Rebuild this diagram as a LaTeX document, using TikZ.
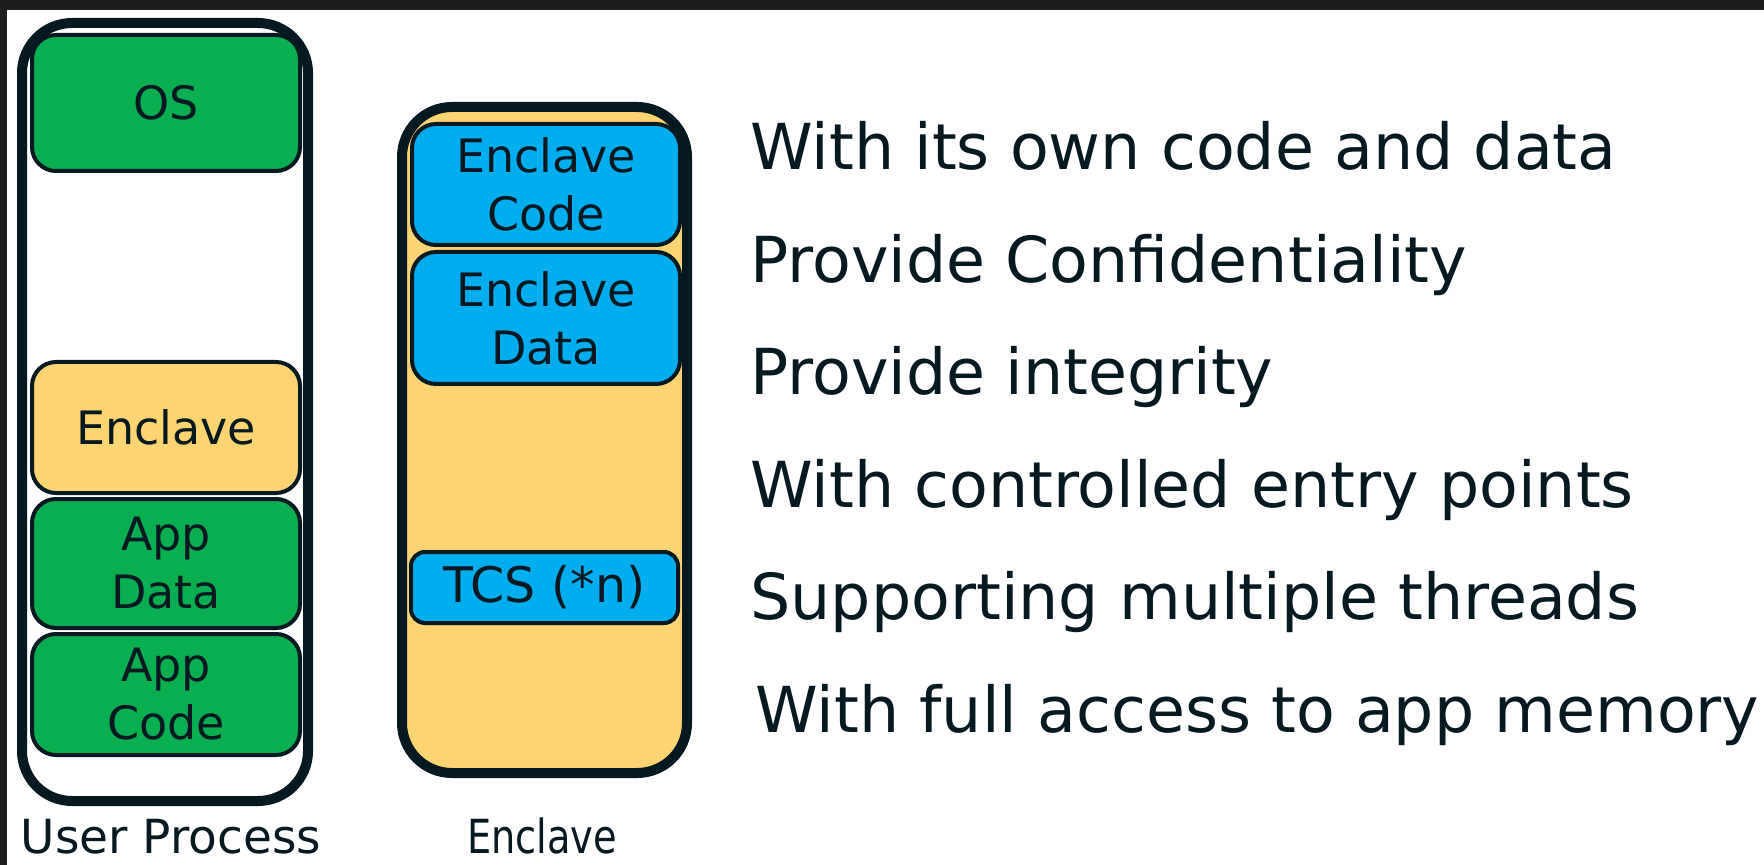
\documentclass[tikz,border=0pt]{standalone}
\usepackage{fontspec}
\setmainfont{DejaVu Sans}
\definecolor{ink}{RGB}{6,24,32}
\definecolor{osgreen}{RGB}{8,174,80}
\definecolor{encyellow}{RGB}{253,212,114}
\definecolor{encblue}{RGB}{0,174,239}
\definecolor{frame}{RGB}{30,30,30}
\tikzset{
  container/.style={draw=ink, line width=5pt, rounded corners=25pt, minimum width=143pt},
  part/.style={draw=ink, line width=2pt, rounded corners=12pt, minimum width=134pt,
    align=center, text=ink, inner sep=0pt,
    font=\fontsize{23pt}{29pt}\selectfont},
  point/.style={anchor=base west, text=ink, inner sep=0pt,
    font=\fontsize{31.7pt}{38pt}\selectfont},
  caption/.style={anchor=base, text=ink, inner sep=0pt,
    font=\fontsize{23.5pt}{28pt}\selectfont}
}
\begin{document}
\begin{tikzpicture}[x=0.5pt,y=-0.5pt]
\useasboundingbox (0,0) rectangle (1764,865);
\fill[white] (0,0) rectangle (1764,865);
\fill[frame] (0,0) rectangle (1764,10);
\fill[frame] (0,0) rectangle (7,865);

% user process column
\node[container, fill=white, minimum height=389pt] (proc) at (165,412) {};
\node[part, fill=osgreen, minimum height=68pt] (os) at (166,103) {OS};
\node[part, fill=encyellow, minimum height=65.5pt] (encl) at (166,427.5) {Enclave};
\node[part, fill=osgreen, minimum height=64.5pt] (appdata) at (166,563.5) {App\\Data};
\node[part, fill=osgreen, minimum height=60.5pt] (appcode) at (166,694.5) {App\\Code};

% enclave column
\node[container, fill=encyellow, minimum width=142.5pt, minimum height=333pt] (enc) at (544.5,440) {};
\node[part, fill=encblue, minimum height=60.5pt] (ecode) at (546,184.5) {Enclave\\Code};
\node[part, fill=encblue, minimum height=66pt] (edata) at (546,318) {Enclave\\Data};
\node[part, fill=encblue, minimum width=133.5pt, minimum height=35.5pt, rounded corners=7pt,
  font=\fontsize{24.5pt}{29pt}\selectfont] (tcs) at (544.5,587.5) {TCS (*n)};

% column captions
\node[caption] (proccap) at (171,853) {User Process};
\node[caption] (enccap) at (542,853) {\scalebox{0.815}[1]{Enclave}};

% properties
\node[point] (p1) at (750,170) {With its own code and data};
\node[point] (p2) at (750,282.4) {Provide Confidentiality};
\node[point] (p3) at (750,394.8) {Provide integrity};
\node[point] (p4) at (750,507.2) {With controlled entry points};
\node[point] (p5) at (750,619.6) {Supporting multiple threads};
\node[point] (p6) at (755,732) {With full access to app memory};
\end{tikzpicture}
\end{document}
